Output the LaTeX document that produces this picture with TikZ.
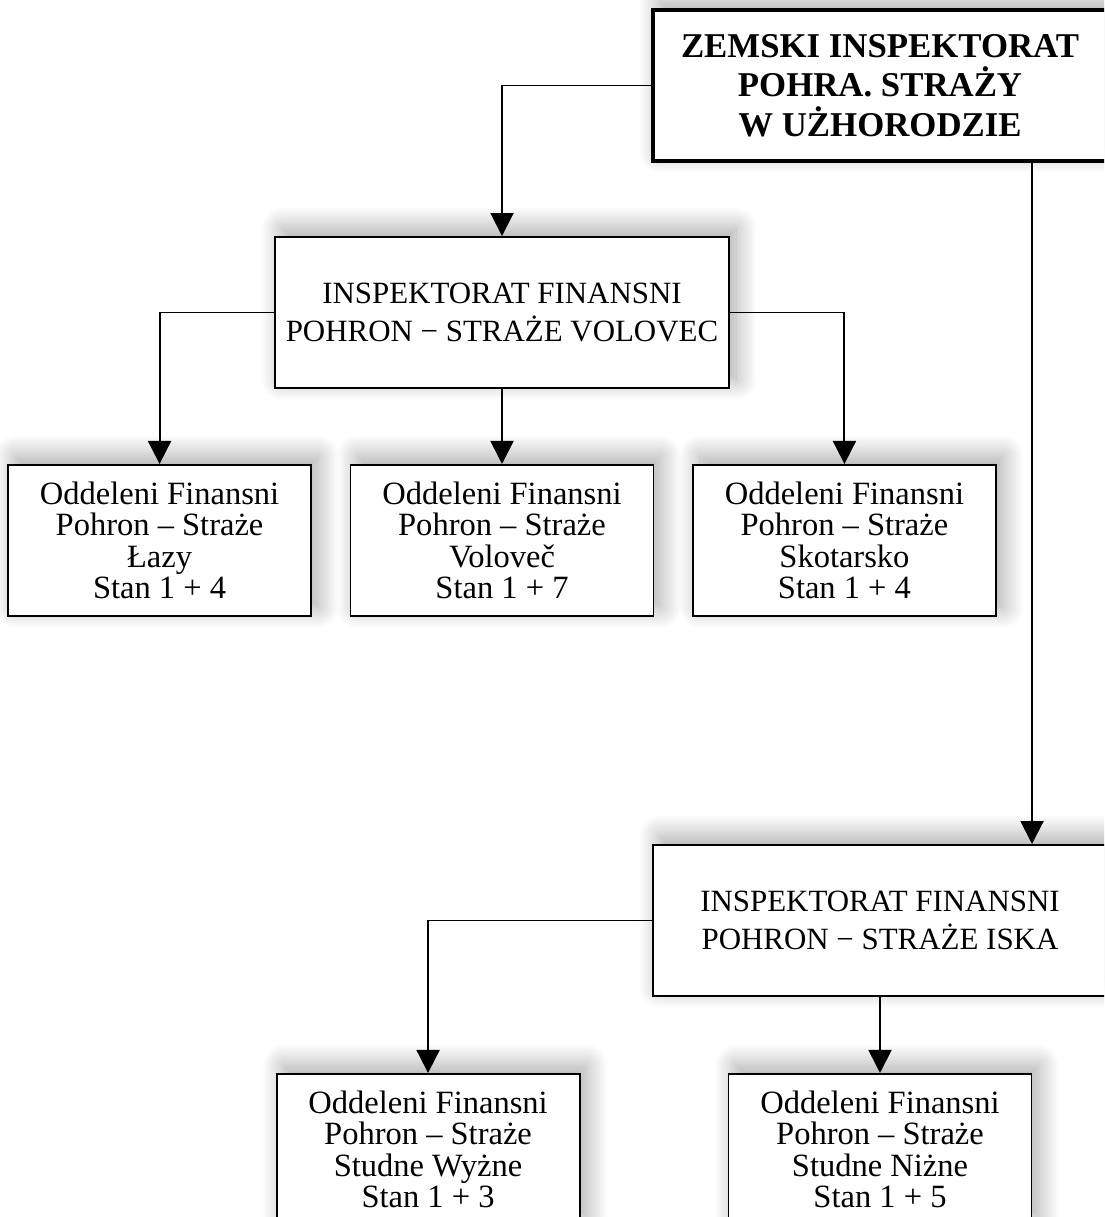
\documentclass[tikz,border=0pt]{standalone}
\usepackage{fontspec}
\setmainfont{Liberation Serif}
\usetikzlibrary{arrows.meta, positioning, shadows.blur}

\begin{document}
\begin{tikzpicture}[
    every node/.style={align=center},
    boxshadow/.style={blur shadow={shadow xshift=4pt, shadow yshift=5pt, shadow blur radius=12pt, shadow blur steps=25, shadow opacity=35}},
    bigbox/.style={draw, rectangle, fill=white, line width=1.1pt, boxshadow, minimum width=9.08cm, minimum height=3.02cm, inner sep=0pt, font=\fontsize{17.6pt}{21.6pt}\selectfont},
    smallbox/.style={draw, rectangle, fill=white, line width=1.1pt, boxshadow, minimum width=6.06cm, minimum height=3.02cm, inner sep=0pt, font=\fontsize{18.5pt}{17.8pt}\selectfont},
    arr/.style={-{Triangle[width=0.46cm, length=0.46cm]}, line width=1.1pt}
  ]
    \useasboundingbox (0,0) rectangle (22.08,-24.34);
    \clip (0,0) rectangle (22.08,-24.34);

    \node[bigbox, line width=2.3pt, font=\bfseries\fontsize{19.8pt}{22.6pt}\selectfont] (zis) at (17.6,-1.71) {ZEMSKI INSPEKTORAT\\POHRA. STRAŻY\\W UŻHORODZIE};
    \node[bigbox] (vol) at (10.04,-6.25) {INSPEKTORAT FINANSNI\\POHRON − STRAŻE VOLOVEC};

    \node[smallbox, below=1.5cm of vol] (volovec) {Oddeleni Finansni\\Pohron – Straże\\Voloveč\\Stan 1 + 7};
    \node[smallbox, left=0.75cm of volovec] (lazy) {Oddeleni Finansni\\Pohron – Straże\\Łazy\\Stan 1 + 4};
    \node[smallbox, right=0.75cm of volovec] (skot) {Oddeleni Finansni\\Pohron – Straże\\Skotarsko\\Stan 1 + 4};

    \node[bigbox, below=13.62cm of zis] (iska) {INSPEKTORAT FINANSNI\\POHRON − STRAŻE ISKA};
    \node[smallbox, below=1.52cm of iska] (niz) {Oddeleni Finansni\\Pohron – Straże\\Studne Niżne\\Stan 1 + 5};
    \node[smallbox, left=2.94cm of niz] (wyz) {Oddeleni Finansni\\Pohron – Straże\\Studne Wyżne\\Stan 1 + 3};

    \draw[arr] (zis.west) -| (vol.north);
    \draw[arr] ([xshift=3.04cm]zis.south) -- ([xshift=3.04cm]iska.north);
    \draw[arr] (vol.west) -| (lazy.north);
    \draw[arr] (vol.south) -- (volovec.north);
    \draw[arr] (vol.east) -| (skot.north);
    \draw[arr] (iska.west) -| (wyz.north);
    \draw[arr] (iska.south) -- (niz.north);
\end{tikzpicture}
\end{document}
